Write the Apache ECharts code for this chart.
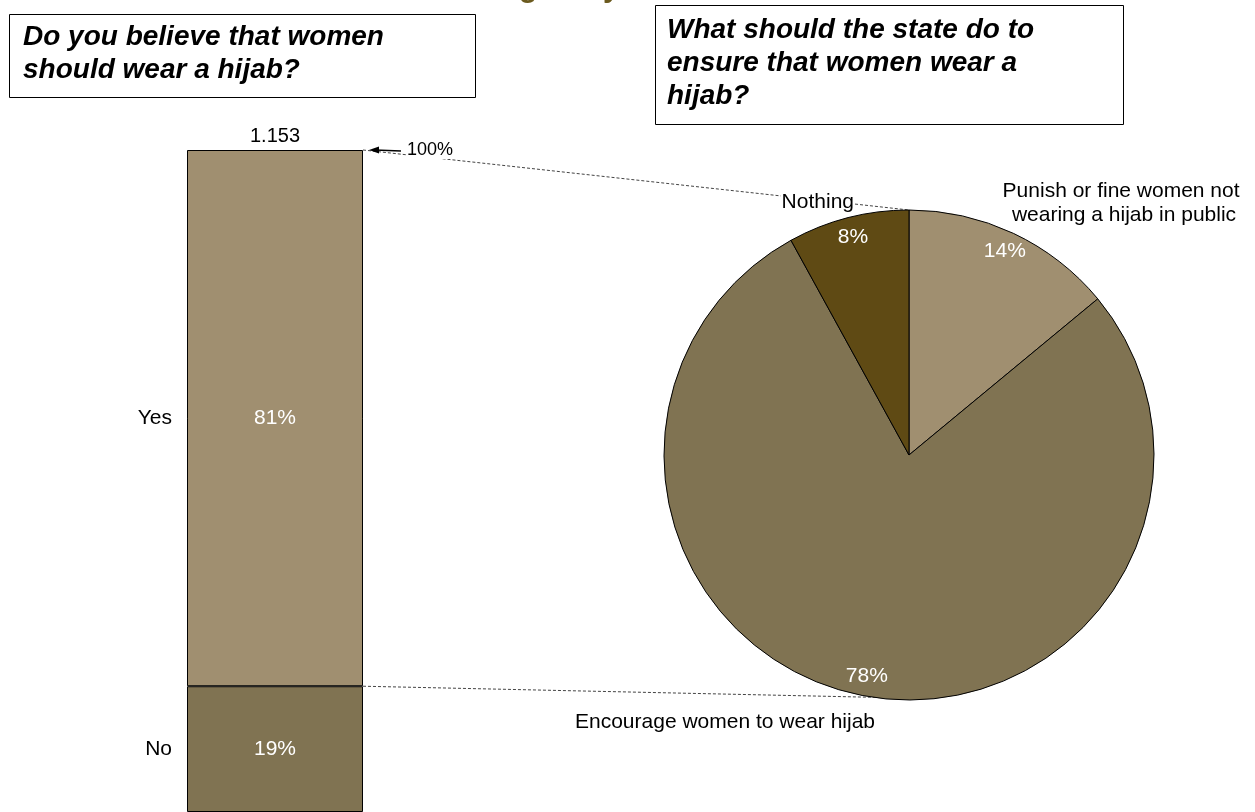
<!DOCTYPE html>
<html>
<head>
<meta charset="utf-8">
<script src="https://cdn.jsdelivr.net/npm/echarts@6/dist/echarts.min.js"></script>
<style>
  html, body { margin: 0; padding: 0; background: #fff; }
  #main { width: 1255px; height: 812px; }
</style>
</head>
<body>
<div id="main"></div>
<script>
// bar: answers to "should women wear a hijab"
var barCategory = ['1.153'];
var barNames = ['No', 'Yes'];
var barValues = [19, 81];

// pie: what should the state do
var pieNames = ['Punish or fine women not wearing a hijab in public', 'Encourage women to wear hijab', 'Nothing'];
var pieValues = [14, 78, 8];

var colLight = '#A08F70';
var colMid = '#807352';
var colDark = '#5F4A14';
var barColors = [colMid, colLight];
var pieColors = [colLight, colMid, colDark];

var font = '"Liberation Sans", Arial, sans-serif';
var gridLeft = 187, gridWidth = 176, gridTop = 150, gridHeight = 662;
var pieCenter = [909, 455], pieR = 245;

// where the outside pie labels sit (and how they are boxed)
var pieLabelPos = [
  { x: 1124, y: 203, align: 'center' },
  { x: 725, y: 722, align: 'center' },
  { x: 855, y: 202, align: 'right' }
];
var pieLabelExtra = [
  { width: 255, overflow: 'break' },
  {},
  { backgroundColor: '#fff', padding: [0, 1] }
];

var chart = echarts.init(document.getElementById('main'));

// midpoints of the stacked segments, for the Yes/No labels
var mids = [];
var acc = 0;
barValues.forEach(function (v) { mids.push(acc + v / 2); acc += v; });

var series = [];
barNames.forEach(function (name, i) {
  series.push({
    name: name,
    type: 'bar',
    stack: 'all',
    barWidth: '100%',
    data: [barValues[i]],
    itemStyle: { color: barColors[i], borderColor: '#000', borderWidth: 1 },
    label: {
      show: true, position: 'inside', formatter: '{c}%',
      color: '#fff', fontSize: 21, fontFamily: font
    },
    silent: true
  });
});
series.push({
  type: 'scatter',
  symbolSize: 0,
  data: barNames.map(function (n, i) { return { value: [0, mids[i]], name: n }; }),
  itemStyle: { opacity: 1 },
  label: {
    show: true, position: 'left', distance: gridWidth / 2 + 15,
    formatter: '{b}', color: '#000', opacity: 1, fontSize: 21, fontFamily: font
  },
  silent: true
});
series.push({
  type: 'pie',
  center: pieCenter,
  radius: pieR,
  startAngle: 90,
  data: pieNames.map(function (n, i) {
    return { name: n, value: pieValues[i], label: pieLabelExtra[i] };
  }),
  itemStyle: {
    color: function (p) { return pieColors[p.dataIndex]; },
    borderColor: '#000', borderWidth: 1
  },
  label: {
    show: true, position: 'outside', formatter: '{b}',
    color: '#000', fontSize: 21, fontFamily: font, lineHeight: 24
  },
  labelLine: { show: false },
  labelLayout: function (p) {
    var s = pieLabelPos[p.dataIndex];
    return { x: s.x, y: s.y, align: s.align, verticalAlign: 'middle' };
  },
  emphasis: { disabled: true },
  silent: true,
  z: 3
});
series.push({
  type: 'pie',
  center: pieCenter,
  radius: [pieR - 48, pieR + 2],
  startAngle: 90,
  data: pieNames.map(function (n, i) { return { name: n, value: pieValues[i] }; }),
  itemStyle: { color: 'rgba(0,0,0,0)' },
  label: {
    show: true, position: 'inside', formatter: '{c}%',
    color: '#fff', fontSize: 21, fontFamily: font
  },
  labelLine: { show: false },
  emphasis: { disabled: true },
  silent: true,
  z: 4
});

var option = {
  animation: false,
  backgroundColor: '#fff',
  grid: { left: gridLeft, top: gridTop, width: gridWidth, height: gridHeight },
  xAxis: {
    type: 'category',
    position: 'top',
    data: barCategory,
    axisLine: { show: false },
    axisTick: { show: false },
    axisLabel: { margin: 4, color: '#000', fontSize: 20, fontFamily: font }
  },
  yAxis: {
    type: 'value', min: 0, max: 100,
    show: false
  },
  series: series
};
chart.setOption(option);

// connector lines and the 100% marker
var barRight = gridLeft + gridWidth;
var yTop = chart.convertToPixel({ yAxisIndex: 0 }, 100);
var ySplit = chart.convertToPixel({ yAxisIndex: 0 }, barValues[0]);
var pieTop = pieCenter[1] - pieR;
var pieBottom = pieCenter[1] + pieR;
var dash = { stroke: '#444', lineWidth: 1, lineDash: [3, 2] };

var boxText = {
  fill: '#000', font: 'italic bold 28px ' + font, lineHeight: 33,
  verticalAlign: 'top'
};

chart.setOption({
  graphic: [
    { type: 'line', z: 1, shape: { x1: barRight, y1: yTop, x2: pieCenter[0], y2: pieTop }, style: dash },
    { type: 'line', z: 1, shape: { x1: barRight, y1: ySplit, x2: pieCenter[0] - 4, y2: pieBottom - 2 }, style: dash },
    { type: 'text', z: 10, left: 406, top: yTop - 9,
      style: { text: '100%', fill: '#000', font: '18px ' + font, backgroundColor: '#fff', padding: [0, 1] } },
    { type: 'line', z: 11, shape: { x1: barRight + 12, y1: yTop, x2: barRight + 38, y2: yTop + 1 },
      style: { stroke: '#000', lineWidth: 1.5 } },
    { type: 'polygon', z: 11,
      shape: { points: [[barRight + 6, yTop], [barRight + 16, yTop - 3.5], [barRight + 16, yTop + 3.5]] },
      style: { fill: '#000' } },
    // question boxes
    { type: 'rect', shape: { x: 9.5, y: 14.5, width: 466, height: 83 },
      style: { fill: '#fff', stroke: '#000', lineWidth: 1 } },
    { type: 'text', left: 23, top: 21,
      style: Object.assign({ text: 'Do you believe that women\nshould wear a hijab?' }, boxText) },
    { type: 'rect', shape: { x: 655.5, y: 5.5, width: 468, height: 119 },
      style: { fill: '#fff', stroke: '#000', lineWidth: 1 } },
    { type: 'text', left: 667, top: 14,
      style: Object.assign({ text: 'What should the state do to\nensure that women wear a\nhijab?' }, boxText) },
    // cropped heading fragments at the very top
    { type: 'text', left: 519, top: -26,
      style: { text: 'g', fill: '#6B5A1E', font: 'bold 30px ' + font } },
    { type: 'text', left: 603, top: -26,
      style: { text: 'y', fill: '#6B5A1E', font: 'bold 30px ' + font } }
  ]
});
</script>
</body>
</html>
